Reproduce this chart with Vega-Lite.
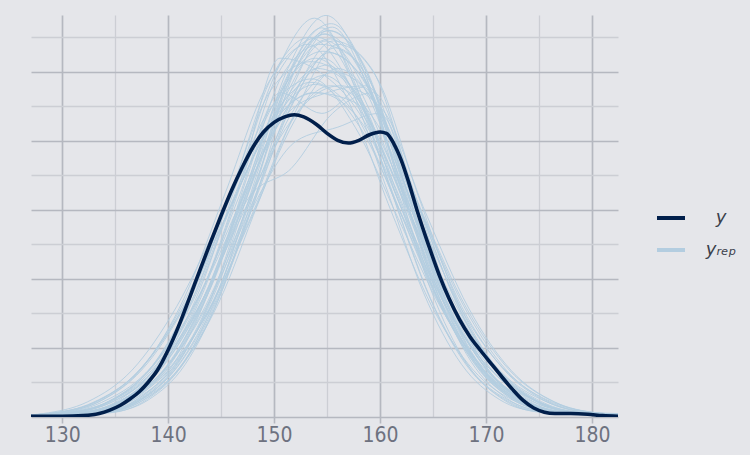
{
"$schema": "https://vega.github.io/schema/vega-lite/v6.json",
"width": 587, "height": 402,
"autosize": "none",
"padding": {"left": 31, "top": 15, "right": 132, "bottom": 38},
"background": "#e5e6ea",
"config": {"view": {"stroke": null}},
"datasets": {
"obs": [
{"x":127.06,"d":0.0001},{"x":130,"d":0.0001},{"x":132,"d":0.0002},{"x":133.5,"d":0.0005},{"x":134.5,"d":0.0010},{"x":135.5,"d":0.0017},{"x":136.4,"d":0.0026},{"x":137.3,"d":0.0037},{"x":138.1,"d":0.0050},{"x":139,"d":0.0068},{"x":140,"d":0.0097},{"x":141,"d":0.0132},{"x":142,"d":0.0172},{"x":143,"d":0.0213},{"x":144,"d":0.0253},{"x":145,"d":0.0292},{"x":146,"d":0.0329},{"x":147,"d":0.0362},{"x":148,"d":0.0391},{"x":149,"d":0.0413},{"x":150,"d":0.0427},{"x":151,"d":0.0435},{"x":151.9,"d":0.0438},{"x":152.8,"d":0.0435},{"x":154,"d":0.0424},{"x":155,"d":0.0411},{"x":156,"d":0.0401},{"x":157,"d":0.0397},{"x":158,"d":0.0401},{"x":159,"d":0.0409},{"x":160,"d":0.0413},{"x":160.6,"d":0.0411},{"x":161.3,"d":0.0396},{"x":162,"d":0.0372},{"x":162.7,"d":0.0340},{"x":163.5,"d":0.0299},{"x":164.6,"d":0.0248},{"x":165.6,"d":0.0205},{"x":166.5,"d":0.0172},{"x":167.5,"d":0.0141},{"x":168.5,"d":0.0116},{"x":169.5,"d":0.0096},{"x":170.5,"d":0.0077},{"x":171.5,"d":0.0058},{"x":172.5,"d":0.0040},{"x":173.5,"d":0.0024},{"x":174.5,"d":0.0013},{"x":175.5,"d":0.0007},{"x":176.5,"d":0.0005},{"x":178,"d":0.0005},{"x":179.6,"d":0.0004},{"x":181,"d":0.0002},{"x":182.45,"d":0.0001}
],
"rep": [
{"s":1,"x":127.06,"d":0.0001},{"s":1,"x":132.0,"d":0.0006},{"s":1,"x":135.75,"d":0.0024},{"s":1,"x":139.5,"d":0.0074},{"s":1,"x":143.25,"d":0.0170},{"s":1,"x":147.0,"d":0.0318},{"s":1,"x":150.75,"d":0.0478},{"s":1,"x":154.5,"d":0.0564},{"s":1,"x":158.25,"d":0.0455},{"s":1,"x":162.0,"d":0.0320},{"s":1,"x":165.75,"d":0.0176},{"s":1,"x":169.5,"d":0.0072},{"s":1,"x":173.25,"d":0.0024},{"s":1,"x":177.0,"d":0.0007},{"s":1,"x":182.45,"d":0.0004},
{"s":2,"x":127.06,"d":0.0002},{"s":2,"x":131.8,"d":0.0006},{"s":2,"x":135.7,"d":0.0023},{"s":2,"x":139.6,"d":0.0068},{"s":2,"x":143.5,"d":0.0160},{"s":2,"x":147.4,"d":0.0300},{"s":2,"x":151.3,"d":0.0440},{"s":2,"x":155.2,"d":0.0528},{"s":2,"x":159.1,"d":0.0470},{"s":2,"x":163.0,"d":0.0305},{"s":2,"x":166.9,"d":0.0162},{"s":2,"x":170.8,"d":0.0070},{"s":2,"x":174.7,"d":0.0023},{"s":2,"x":178.6,"d":0.0006},{"s":2,"x":182.45,"d":0.0004},
{"s":3,"x":127.06,"d":0.0001},{"s":3,"x":132.2,"d":0.0007},{"s":3,"x":135.8,"d":0.0026},{"s":3,"x":139.4,"d":0.0078},{"s":3,"x":143.0,"d":0.0185},{"s":3,"x":146.6,"d":0.0345},{"s":3,"x":150.2,"d":0.0500},{"s":3,"x":153.8,"d":0.0578},{"s":3,"x":157.4,"d":0.0492},{"s":3,"x":161.0,"d":0.0330},{"s":3,"x":164.6,"d":0.0176},{"s":3,"x":168.2,"d":0.0074},{"s":3,"x":171.8,"d":0.0025},{"s":3,"x":175.4,"d":0.0007},{"s":3,"x":182.45,"d":0.0003},
{"s":4,"x":127.06,"d":0.0002},{"s":4,"x":131.7,"d":0.0006},{"s":4,"x":135.75,"d":0.0022},{"s":4,"x":139.8,"d":0.0066},{"s":4,"x":143.85,"d":0.0155},{"s":4,"x":147.9,"d":0.0290},{"s":4,"x":151.95,"d":0.0430},{"s":4,"x":156.0,"d":0.0505},{"s":4,"x":160.05,"d":0.0440},{"s":4,"x":164.1,"d":0.0292},{"s":4,"x":168.15,"d":0.0158},{"s":4,"x":172.2,"d":0.0068},{"s":4,"x":176.25,"d":0.0023},{"s":4,"x":180.3,"d":0.0006},{"s":4,"x":182.45,"d":0.0004},
{"s":5,"x":127.06,"d":0.0003},{"s":5,"x":128.8,"d":0.0005},{"s":5,"x":133.0,"d":0.0021},{"s":5,"x":137.2,"d":0.0066},{"s":5,"x":141.4,"d":0.0158},{"s":5,"x":145.6,"d":0.0295},{"s":5,"x":149.8,"d":0.0425},{"s":5,"x":154.0,"d":0.0470},{"s":5,"x":158.2,"d":0.0428},{"s":5,"x":162.4,"d":0.0290},{"s":5,"x":166.6,"d":0.0150},{"s":5,"x":170.8,"d":0.0063},{"s":5,"x":175.0,"d":0.0021},{"s":5,"x":179.2,"d":0.0006},{"s":5,"x":182.45,"d":0.0004},
{"s":6,"x":127.06,"d":0.0001},{"s":6,"x":132.5,"d":0.0006},{"s":6,"x":136.25,"d":0.0024},{"s":6,"x":140.0,"d":0.0075},{"s":6,"x":143.75,"d":0.0185},{"s":6,"x":147.5,"d":0.0340},{"s":6,"x":151.25,"d":0.0440},{"s":6,"x":155.0,"d":0.0470},{"s":6,"x":158.75,"d":0.0480},{"s":6,"x":162.5,"d":0.0330},{"s":6,"x":166.25,"d":0.0170},{"s":6,"x":170.0,"d":0.0070},{"s":6,"x":173.75,"d":0.0023},{"s":6,"x":177.5,"d":0.0006},{"s":6,"x":182.45,"d":0.0003},
{"s":7,"x":127.06,"d":0.0003},{"s":7,"x":129.8,"d":0.0006},{"s":7,"x":133.7,"d":0.0024},{"s":7,"x":137.6,"d":0.0072},{"s":7,"x":141.5,"d":0.0172},{"s":7,"x":145.4,"d":0.0325},{"s":7,"x":149.3,"d":0.0480},{"s":7,"x":153.2,"d":0.0540},{"s":7,"x":157.1,"d":0.0455},{"s":7,"x":161.0,"d":0.0300},{"s":7,"x":164.9,"d":0.0160},{"s":7,"x":168.8,"d":0.0068},{"s":7,"x":172.7,"d":0.0023},{"s":7,"x":176.6,"d":0.0007},{"s":7,"x":182.45,"d":0.0003},
{"s":8,"x":127.06,"d":0.0001},{"s":8,"x":133.7,"d":0.0006},{"s":8,"x":137.3,"d":0.0024},{"s":8,"x":140.9,"d":0.0074},{"s":8,"x":144.5,"d":0.0175},{"s":8,"x":148.1,"d":0.0330},{"s":8,"x":151.7,"d":0.0495},{"s":8,"x":155.3,"d":0.0548},{"s":8,"x":158.9,"d":0.0480},{"s":8,"x":162.5,"d":0.0340},{"s":8,"x":166.1,"d":0.0182},{"s":8,"x":169.7,"d":0.0076},{"s":8,"x":173.3,"d":0.0025},{"s":8,"x":176.9,"d":0.0007},{"s":8,"x":182.45,"d":0.0004},
{"s":9,"x":127.06,"d":0.0001},{"s":9,"x":134.1,"d":0.0007},{"s":9,"x":137.55,"d":0.0026},{"s":9,"x":141.0,"d":0.0079},{"s":9,"x":144.45,"d":0.0186},{"s":9,"x":147.9,"d":0.0340},{"s":9,"x":151.35,"d":0.0495},{"s":9,"x":154.8,"d":0.0555},{"s":9,"x":158.25,"d":0.0500},{"s":9,"x":161.7,"d":0.0352},{"s":9,"x":165.15,"d":0.0190},{"s":9,"x":168.6,"d":0.0080},{"s":9,"x":172.05,"d":0.0026},{"s":9,"x":175.5,"d":0.0008},{"s":9,"x":182.45,"d":0.0003},
{"s":10,"x":127.06,"d":0.0003},{"s":10,"x":129.3,"d":0.0006},{"s":10,"x":133.35,"d":0.0023},{"s":10,"x":137.4,"d":0.0070},{"s":10,"x":141.45,"d":0.0165},{"s":10,"x":145.5,"d":0.0305},{"s":10,"x":149.55,"d":0.0445},{"s":10,"x":153.6,"d":0.0490},{"s":10,"x":157.65,"d":0.0420},{"s":10,"x":161.7,"d":0.0288},{"s":10,"x":165.75,"d":0.0158},{"s":10,"x":169.8,"d":0.0068},{"s":10,"x":173.85,"d":0.0022},{"s":10,"x":177.9,"d":0.0006},{"s":10,"x":182.45,"d":0.0003},
{"s":11,"x":127.06,"d":0.0001},{"s":11,"x":132.1,"d":0.0006},{"s":11,"x":136.0,"d":0.0024},{"s":11,"x":139.9,"d":0.0072},{"s":11,"x":143.8,"d":0.0180},{"s":11,"x":147.7,"d":0.0320},{"s":11,"x":151.6,"d":0.0360},{"s":11,"x":155.5,"d":0.0440},{"s":11,"x":159.4,"d":0.0470},{"s":11,"x":163.3,"d":0.0320},{"s":11,"x":167.2,"d":0.0165},{"s":11,"x":171.1,"d":0.0068},{"s":11,"x":175.0,"d":0.0022},{"s":11,"x":178.9,"d":0.0006},{"s":11,"x":182.45,"d":0.0004},
{"s":12,"x":127.06,"d":0.0002},{"s":12,"x":131.7,"d":0.0006},{"s":12,"x":135.45,"d":0.0023},{"s":12,"x":139.2,"d":0.0070},{"s":12,"x":142.95,"d":0.0168},{"s":12,"x":146.7,"d":0.0330},{"s":12,"x":150.45,"d":0.0500},{"s":12,"x":154.2,"d":0.0550},{"s":12,"x":157.95,"d":0.0470},{"s":12,"x":161.7,"d":0.0315},{"s":12,"x":165.45,"d":0.0170},{"s":12,"x":169.2,"d":0.0074},{"s":12,"x":172.95,"d":0.0025},{"s":12,"x":176.7,"d":0.0007},{"s":12,"x":182.45,"d":0.0003},
{"s":13,"x":127.06,"d":0.0001},{"s":13,"x":134.0,"d":0.0006},{"s":13,"x":137.6,"d":0.0024},{"s":13,"x":141.2,"d":0.0072},{"s":13,"x":144.8,"d":0.0172},{"s":13,"x":148.4,"d":0.0328},{"s":13,"x":152.0,"d":0.0470},{"s":13,"x":155.6,"d":0.0545},{"s":13,"x":159.2,"d":0.0505},{"s":13,"x":162.8,"d":0.0345},{"s":13,"x":166.4,"d":0.0180},{"s":13,"x":170.0,"d":0.0073},{"s":13,"x":173.6,"d":0.0024},{"s":13,"x":177.2,"d":0.0007},{"s":13,"x":182.45,"d":0.0004},
{"s":14,"x":127.06,"d":0.0003},{"s":14,"x":128.2,"d":0.0005},{"s":14,"x":132.4,"d":0.0022},{"s":14,"x":136.6,"d":0.0068},{"s":14,"x":140.8,"d":0.0160},{"s":14,"x":145.0,"d":0.0290},{"s":14,"x":149.2,"d":0.0420},{"s":14,"x":153.4,"d":0.0485},{"s":14,"x":157.6,"d":0.0440},{"s":14,"x":161.8,"d":0.0300},{"s":14,"x":166.0,"d":0.0155},{"s":14,"x":170.2,"d":0.0064},{"s":14,"x":174.4,"d":0.0022},{"s":14,"x":178.6,"d":0.0006},{"s":14,"x":182.45,"d":0.0004},
{"s":15,"x":127.06,"d":0.0001},{"s":15,"x":132.6,"d":0.0006},{"s":15,"x":136.5,"d":0.0023},{"s":15,"x":140.4,"d":0.0070},{"s":15,"x":144.3,"d":0.0170},{"s":15,"x":148.2,"d":0.0310},{"s":15,"x":152.1,"d":0.0400},{"s":15,"x":156.0,"d":0.0420},{"s":15,"x":159.9,"d":0.0440},{"s":15,"x":163.8,"d":0.0300},{"s":15,"x":167.7,"d":0.0160},{"s":15,"x":171.6,"d":0.0070},{"s":15,"x":175.5,"d":0.0024},{"s":15,"x":179.4,"d":0.0007},{"s":15,"x":182.45,"d":0.0005},
{"s":16,"x":127.06,"d":0.0001},{"s":16,"x":133.0,"d":0.0006},{"s":16,"x":136.6,"d":0.0024},{"s":16,"x":140.2,"d":0.0076},{"s":16,"x":143.8,"d":0.0180},{"s":16,"x":147.4,"d":0.0335},{"s":16,"x":151.0,"d":0.0480},{"s":16,"x":154.6,"d":0.0530},{"s":16,"x":158.2,"d":0.0495},{"s":16,"x":161.8,"d":0.0340},{"s":16,"x":165.4,"d":0.0178},{"s":16,"x":169.0,"d":0.0075},{"s":16,"x":172.6,"d":0.0025},{"s":16,"x":176.2,"d":0.0008},{"s":16,"x":182.45,"d":0.0003},
{"s":17,"x":127.06,"d":0.0002},{"s":17,"x":130.7,"d":0.0006},{"s":17,"x":134.75,"d":0.0022},{"s":17,"x":138.8,"d":0.0066},{"s":17,"x":142.85,"d":0.0158},{"s":17,"x":146.9,"d":0.0302},{"s":17,"x":150.95,"d":0.0450},{"s":17,"x":155.0,"d":0.0510},{"s":17,"x":159.05,"d":0.0430},{"s":17,"x":163.1,"d":0.0295},{"s":17,"x":167.15,"d":0.0162},{"s":17,"x":171.2,"d":0.0068},{"s":17,"x":175.25,"d":0.0022},{"s":17,"x":179.3,"d":0.0006},{"s":17,"x":182.45,"d":0.0004},
{"s":18,"x":127.06,"d":0.0002},{"s":18,"x":131.8,"d":0.0006},{"s":18,"x":135.55,"d":0.0024},{"s":18,"x":139.3,"d":0.0072},{"s":18,"x":143.05,"d":0.0176},{"s":18,"x":146.8,"d":0.0340},{"s":18,"x":150.55,"d":0.0520},{"s":18,"x":154.3,"d":0.0500},{"s":18,"x":158.05,"d":0.0440},{"s":18,"x":161.8,"d":0.0320},{"s":18,"x":165.55,"d":0.0168},{"s":18,"x":169.3,"d":0.0070},{"s":18,"x":173.05,"d":0.0023},{"s":18,"x":176.8,"d":0.0007},{"s":18,"x":182.45,"d":0.0003},
{"s":19,"x":127.06,"d":0.0001},{"s":19,"x":134.7,"d":0.0007},{"s":19,"x":138.15,"d":0.0025},{"s":19,"x":141.6,"d":0.0076},{"s":19,"x":145.05,"d":0.0182},{"s":19,"x":148.5,"d":0.0345},{"s":19,"x":151.95,"d":0.0515},{"s":19,"x":155.4,"d":0.0570},{"s":19,"x":158.85,"d":0.0495},{"s":19,"x":162.3,"d":0.0340},{"s":19,"x":165.75,"d":0.0185},{"s":19,"x":169.2,"d":0.0078},{"s":19,"x":172.65,"d":0.0026},{"s":19,"x":176.1,"d":0.0007},{"s":19,"x":182.45,"d":0.0003},
{"s":20,"x":127.06,"d":0.0002},{"s":20,"x":130.5,"d":0.0006},{"s":20,"x":134.4,"d":0.0023},{"s":20,"x":138.3,"d":0.0070},{"s":20,"x":142.2,"d":0.0168},{"s":20,"x":146.1,"d":0.0315},{"s":20,"x":150.0,"d":0.0455},{"s":20,"x":153.9,"d":0.0520},{"s":20,"x":157.8,"d":0.0458},{"s":20,"x":161.7,"d":0.0305},{"s":20,"x":165.6,"d":0.0164},{"s":20,"x":169.5,"d":0.0070},{"s":20,"x":173.4,"d":0.0023},{"s":20,"x":177.3,"d":0.0006},{"s":20,"x":182.45,"d":0.0003},
{"s":21,"x":127.06,"d":0.0003},{"s":21,"x":129.5,"d":0.0005},{"s":21,"x":133.7,"d":0.0021},{"s":21,"x":137.9,"d":0.0064},{"s":21,"x":142.1,"d":0.0152},{"s":21,"x":146.3,"d":0.0285},{"s":21,"x":150.5,"d":0.0430},{"s":21,"x":154.7,"d":0.0495},{"s":21,"x":158.9,"d":0.0425},{"s":21,"x":163.1,"d":0.0285},{"s":21,"x":167.3,"d":0.0152},{"s":21,"x":171.5,"d":0.0064},{"s":21,"x":175.7,"d":0.0022},{"s":21,"x":179.9,"d":0.0006},{"s":21,"x":182.45,"d":0.0004},
{"s":22,"x":127.06,"d":0.0001},{"s":22,"x":133.5,"d":0.0006},{"s":22,"x":137.1,"d":0.0024},{"s":22,"x":140.7,"d":0.0074},{"s":22,"x":144.3,"d":0.0176},{"s":22,"x":147.9,"d":0.0325},{"s":22,"x":151.5,"d":0.0470},{"s":22,"x":155.1,"d":0.0560},{"s":22,"x":158.7,"d":0.0500},{"s":22,"x":162.3,"d":0.0330},{"s":22,"x":165.9,"d":0.0178},{"s":22,"x":169.5,"d":0.0074},{"s":22,"x":173.1,"d":0.0024},{"s":22,"x":176.7,"d":0.0007},{"s":22,"x":182.45,"d":0.0003},
{"s":23,"x":127.06,"d":0.0002},{"s":23,"x":131.0,"d":0.0006},{"s":23,"x":134.75,"d":0.0024},{"s":23,"x":138.5,"d":0.0074},{"s":23,"x":142.25,"d":0.0176},{"s":23,"x":146.0,"d":0.0330},{"s":23,"x":149.75,"d":0.0475},{"s":23,"x":153.5,"d":0.0515},{"s":23,"x":157.25,"d":0.0480},{"s":23,"x":161.0,"d":0.0330},{"s":23,"x":164.75,"d":0.0172},{"s":23,"x":168.5,"d":0.0070},{"s":23,"x":172.25,"d":0.0023},{"s":23,"x":176.0,"d":0.0007},{"s":23,"x":182.45,"d":0.0003},
{"s":24,"x":127.06,"d":0.0002},{"s":24,"x":131.9,"d":0.0006},{"s":24,"x":135.95,"d":0.0022},{"s":24,"x":140.0,"d":0.0067},{"s":24,"x":144.05,"d":0.0160},{"s":24,"x":148.1,"d":0.0300},{"s":24,"x":152.15,"d":0.0440},{"s":24,"x":156.2,"d":0.0480},{"s":24,"x":160.25,"d":0.0445},{"s":24,"x":164.3,"d":0.0296},{"s":24,"x":168.35,"d":0.0158},{"s":24,"x":172.4,"d":0.0067},{"s":24,"x":176.45,"d":0.0022},{"s":24,"x":180.5,"d":0.0006},{"s":24,"x":182.45,"d":0.0004},
{"s":25,"x":127.06,"d":0.0002},{"s":25,"x":131.5,"d":0.0006},{"s":25,"x":135.4,"d":0.0023},{"s":25,"x":139.3,"d":0.0069},{"s":25,"x":143.2,"d":0.0166},{"s":25,"x":147.1,"d":0.0305},{"s":25,"x":151.0,"d":0.0462},{"s":25,"x":154.9,"d":0.0545},{"s":25,"x":158.8,"d":0.0468},{"s":25,"x":162.7,"d":0.0310},{"s":25,"x":166.6,"d":0.0166},{"s":25,"x":170.5,"d":0.0069},{"s":25,"x":174.4,"d":0.0023},{"s":25,"x":178.3,"d":0.0007},{"s":25,"x":182.45,"d":0.0004},
{"s":26,"x":127.06,"d":0.0001},{"s":26,"x":133.7,"d":0.0007},{"s":26,"x":137.15,"d":0.0026},{"s":26,"x":140.6,"d":0.0079},{"s":26,"x":144.05,"d":0.0190},{"s":26,"x":147.5,"d":0.0350},{"s":26,"x":150.95,"d":0.0500},{"s":26,"x":154.4,"d":0.0540},{"s":26,"x":157.85,"d":0.0515},{"s":26,"x":161.3,"d":0.0355},{"s":26,"x":164.75,"d":0.0186},{"s":26,"x":168.2,"d":0.0077},{"s":26,"x":171.65,"d":0.0025},{"s":26,"x":175.1,"d":0.0007},{"s":26,"x":182.45,"d":0.0003},
{"s":27,"x":127.06,"d":0.0001},{"s":27,"x":133.3,"d":0.0006},{"s":27,"x":137.05,"d":0.0023},{"s":27,"x":140.8,"d":0.0071},{"s":27,"x":144.55,"d":0.0170},{"s":27,"x":148.3,"d":0.0318},{"s":27,"x":152.05,"d":0.0465},{"s":27,"x":155.8,"d":0.0535},{"s":27,"x":159.55,"d":0.0472},{"s":27,"x":163.3,"d":0.0320},{"s":27,"x":167.05,"d":0.0172},{"s":27,"x":170.8,"d":0.0072},{"s":27,"x":174.55,"d":0.0024},{"s":27,"x":178.3,"d":0.0007},{"s":27,"x":182.45,"d":0.0004},
{"s":28,"x":127.06,"d":0.0003},{"s":28,"x":129.4,"d":0.0006},{"s":28,"x":133.45,"d":0.0022},{"s":28,"x":137.5,"d":0.0068},{"s":28,"x":141.55,"d":0.0160},{"s":28,"x":145.6,"d":0.0295},{"s":28,"x":149.65,"d":0.0420},{"s":28,"x":153.7,"d":0.0470},{"s":28,"x":157.75,"d":0.0455},{"s":28,"x":161.8,"d":0.0310},{"s":28,"x":165.85,"d":0.0160},{"s":28,"x":169.9,"d":0.0066},{"s":28,"x":173.95,"d":0.0022},{"s":28,"x":178.0,"d":0.0006},{"s":28,"x":182.45,"d":0.0003},
{"s":29,"x":127.06,"d":0.0001},{"s":29,"x":133.3,"d":0.0006},{"s":29,"x":136.9,"d":0.0024},{"s":29,"x":140.5,"d":0.0073},{"s":29,"x":144.1,"d":0.0175},{"s":29,"x":147.7,"d":0.0340},{"s":29,"x":151.3,"d":0.0505},{"s":29,"x":154.9,"d":0.0582},{"s":29,"x":158.5,"d":0.0500},{"s":29,"x":162.1,"d":0.0330},{"s":29,"x":165.7,"d":0.0175},{"s":29,"x":169.3,"d":0.0073},{"s":29,"x":172.9,"d":0.0024},{"s":29,"x":176.5,"d":0.0007},{"s":29,"x":182.45,"d":0.0003},
{"s":30,"x":127.06,"d":0.0003},{"s":30,"x":130.1,"d":0.0005},{"s":30,"x":134.3,"d":0.0021},{"s":30,"x":138.5,"d":0.0065},{"s":30,"x":142.7,"d":0.0155},{"s":30,"x":146.9,"d":0.0290},{"s":30,"x":151.1,"d":0.0418},{"s":30,"x":155.3,"d":0.0480},{"s":30,"x":159.5,"d":0.0430},{"s":30,"x":163.7,"d":0.0288},{"s":30,"x":167.9,"d":0.0150},{"s":30,"x":172.1,"d":0.0063},{"s":30,"x":176.3,"d":0.0021},{"s":30,"x":180.5,"d":0.0006},{"s":30,"x":182.45,"d":0.0004},
{"s":31,"x":127.06,"d":0.0002},{"s":31,"x":130.7,"d":0.0006},{"s":31,"x":134.6,"d":0.0024},{"s":31,"x":138.5,"d":0.0072},{"s":31,"x":142.4,"d":0.0170},{"s":31,"x":146.3,"d":0.0318},{"s":31,"x":150.2,"d":0.0440},{"s":31,"x":154.1,"d":0.0505},{"s":31,"x":158.0,"d":0.0465},{"s":31,"x":161.9,"d":0.0312},{"s":31,"x":165.8,"d":0.0166},{"s":31,"x":169.7,"d":0.0069},{"s":31,"x":173.6,"d":0.0023},{"s":31,"x":177.5,"d":0.0006},{"s":31,"x":182.45,"d":0.0003},
{"s":32,"x":127.06,"d":0.0001},{"s":32,"x":133.9,"d":0.0006},{"s":32,"x":137.5,"d":0.0023},{"s":32,"x":141.1,"d":0.0072},{"s":32,"x":144.7,"d":0.0172},{"s":32,"x":148.3,"d":0.0320},{"s":32,"x":151.9,"d":0.0500},{"s":32,"x":155.5,"d":0.0565},{"s":32,"x":159.1,"d":0.0470},{"s":32,"x":162.7,"d":0.0330},{"s":32,"x":166.3,"d":0.0180},{"s":32,"x":169.9,"d":0.0075},{"s":32,"x":173.5,"d":0.0025},{"s":32,"x":177.1,"d":0.0007},{"s":32,"x":182.45,"d":0.0003},
{"s":33,"x":127.06,"d":0.0002},{"s":33,"x":130.3,"d":0.0006},{"s":33,"x":134.35,"d":0.0022},{"s":33,"x":138.4,"d":0.0067},{"s":33,"x":142.45,"d":0.0162},{"s":33,"x":146.5,"d":0.0300},{"s":33,"x":150.55,"d":0.0428},{"s":33,"x":154.6,"d":0.0520},{"s":33,"x":158.65,"d":0.0440},{"s":33,"x":162.7,"d":0.0298},{"s":33,"x":166.75,"d":0.0160},{"s":33,"x":170.8,"d":0.0068},{"s":33,"x":174.85,"d":0.0023},{"s":33,"x":178.9,"d":0.0006},{"s":33,"x":182.45,"d":0.0004},
{"s":34,"x":127.06,"d":0.0002},{"s":34,"x":131.7,"d":0.0006},{"s":34,"x":135.3,"d":0.0024},{"s":34,"x":138.9,"d":0.0074},{"s":34,"x":142.5,"d":0.0178},{"s":34,"x":146.1,"d":0.0332},{"s":34,"x":149.7,"d":0.0490},{"s":34,"x":153.3,"d":0.0550},{"s":34,"x":156.9,"d":0.0488},{"s":34,"x":160.5,"d":0.0336},{"s":34,"x":164.1,"d":0.0180},{"s":34,"x":167.7,"d":0.0076},{"s":34,"x":171.3,"d":0.0025},{"s":34,"x":174.9,"d":0.0008},{"s":34,"x":182.45,"d":0.0003},
{"s":35,"x":127.06,"d":0.0001},{"s":35,"x":133.5,"d":0.0006},{"s":35,"x":137.25,"d":0.0023},{"s":35,"x":141.0,"d":0.0070},{"s":35,"x":144.75,"d":0.0165},{"s":35,"x":148.5,"d":0.0310},{"s":35,"x":152.25,"d":0.0450},{"s":35,"x":156.0,"d":0.0540},{"s":35,"x":159.75,"d":0.0490},{"s":35,"x":163.5,"d":0.0325},{"s":35,"x":167.25,"d":0.0170},{"s":35,"x":171.0,"d":0.0071},{"s":35,"x":174.75,"d":0.0024},{"s":35,"x":178.5,"d":0.0007},{"s":35,"x":182.45,"d":0.0004},
{"s":36,"x":127.06,"d":0.0002},{"s":36,"x":131.1,"d":0.0006},{"s":36,"x":135.0,"d":0.0024},{"s":36,"x":138.9,"d":0.0071},{"s":36,"x":142.8,"d":0.0170},{"s":36,"x":146.7,"d":0.0320},{"s":36,"x":150.6,"d":0.0470},{"s":36,"x":154.5,"d":0.0440},{"s":36,"x":158.4,"d":0.0478},{"s":36,"x":162.3,"d":0.0315},{"s":36,"x":166.2,"d":0.0165},{"s":36,"x":170.1,"d":0.0069},{"s":36,"x":174.0,"d":0.0023},{"s":36,"x":177.9,"d":0.0006},{"s":36,"x":182.45,"d":0.0003},
{"s":37,"x":127.06,"d":0.0001},{"s":37,"x":134.5,"d":0.0006},{"s":37,"x":137.95,"d":0.0025},{"s":37,"x":141.4,"d":0.0077},{"s":37,"x":144.85,"d":0.0186},{"s":37,"x":148.3,"d":0.0348},{"s":37,"x":151.75,"d":0.0505},{"s":37,"x":155.2,"d":0.0560},{"s":37,"x":158.65,"d":0.0505},{"s":37,"x":162.1,"d":0.0348},{"s":37,"x":165.55,"d":0.0185},{"s":37,"x":169.0,"d":0.0078},{"s":37,"x":172.45,"d":0.0026},{"s":37,"x":175.9,"d":0.0008},{"s":37,"x":182.45,"d":0.0003},
{"s":38,"x":127.06,"d":0.0003},{"s":38,"x":128.7,"d":0.0005},{"s":38,"x":132.9,"d":0.0021},{"s":38,"x":137.1,"d":0.0065},{"s":38,"x":141.3,"d":0.0156},{"s":38,"x":145.5,"d":0.0292},{"s":38,"x":149.7,"d":0.0425},{"s":38,"x":153.9,"d":0.0482},{"s":38,"x":158.1,"d":0.0420},{"s":38,"x":162.3,"d":0.0285},{"s":38,"x":166.5,"d":0.0152},{"s":38,"x":170.7,"d":0.0064},{"s":38,"x":174.9,"d":0.0022},{"s":38,"x":179.1,"d":0.0006},{"s":38,"x":182.45,"d":0.0004},
{"s":39,"x":127.06,"d":0.0001},{"s":39,"x":132.3,"d":0.0006},{"s":39,"x":136.05,"d":0.0024},{"s":39,"x":139.8,"d":0.0073},{"s":39,"x":143.55,"d":0.0174},{"s":39,"x":147.3,"d":0.0326},{"s":39,"x":151.05,"d":0.0475},{"s":39,"x":154.8,"d":0.0555},{"s":39,"x":158.55,"d":0.0460},{"s":39,"x":162.3,"d":0.0318},{"s":39,"x":166.05,"d":0.0174},{"s":39,"x":169.8,"d":0.0073},{"s":39,"x":173.55,"d":0.0024},{"s":39,"x":177.3,"d":0.0007},{"s":39,"x":182.45,"d":0.0004},
{"s":40,"x":127.06,"d":0.0002},{"s":40,"x":131.4,"d":0.0006},{"s":40,"x":135.45,"d":0.0022},{"s":40,"x":139.5,"d":0.0066},{"s":40,"x":143.55,"d":0.0158},{"s":40,"x":147.6,"d":0.0298},{"s":40,"x":151.65,"d":0.0440},{"s":40,"x":155.7,"d":0.0500},{"s":40,"x":159.75,"d":0.0450},{"s":40,"x":163.8,"d":0.0300},{"s":40,"x":167.85,"d":0.0162},{"s":40,"x":171.9,"d":0.0068},{"s":40,"x":175.95,"d":0.0022},{"s":40,"x":180.0,"d":0.0006},{"s":40,"x":182.45,"d":0.0004}
]
},
"encoding": {
  "x": {"field": "x", "type": "quantitative",
    "scale": {"domain": [127.06, 182.45], "nice": false, "zero": false},
    "axis": {"title": null, "domain": false,
      "values": [130,135,140,145,150,155,160,165,170,175,180],
      "labelExpr": "datum.value % 10 === 0 ? datum.label : ''",
      "labelFont": "Liberation Sans Narrow, DejaVu Sans Condensed, Open Sans, sans-serif",
      "labelFontSize": 21, "labelColor": "#6e7280", "labelPadding": 1, "labelFlush": false,
      "tickSize": 6, "tickWidth": 1.6,
      "tickColor": {"condition": {"test": "datum.value % 10 === 0", "value": "#b5b8c0"}, "value": "transparent"},
      "gridColor": {"condition": {"test": "datum.value % 10 === 0", "value": "#b5b8c0"}, "value": "#ccced4"},
      "gridWidth": {"condition": {"test": "datum.value % 10 === 0", "value": 1.7}, "value": 1.3}
    }},
  "y": {"field": "d", "type": "quantitative",
    "scale": {"domain": [0, 0.05826], "nice": false},
    "axis": {"title": null, "domain": false, "labels": false, "ticks": false,
      "values": [0,0.005,0.01,0.015,0.02,0.025,0.03,0.035,0.04,0.045,0.05,0.055],
      "gridColor": {"condition": {"test": "round(datum.value*1000) % 10 === 0", "value": "#b5b8c0"}, "value": "#ccced4"},
      "gridWidth": {"condition": {"test": "round(datum.value*1000) % 10 === 0", "value": 1.7}, "value": 1.3}
    }}
},
"layer": [
  {"data": {"name": "rep"},
   "mark": {"type": "line", "interpolate": "monotone", "strokeWidth": 1, "opacity": 0.9, "clip": true},
   "encoding": {
     "detail": {"field": "s", "type": "nominal"},
     "color": {"datum": "yrep", "type": "nominal",
       "scale": {"domain": ["y", "yrep"], "range": ["#011f4b", "#b3cde0"]},
       "legend": {"title": null, "orient": "none", "legendX": 624, "legendY": 187, "padding": 0,
         "symbolType": "stroke", "symbolSize": 784, "symbolStrokeWidth": 4, "symbolOpacity": 1,
         "labelFontSize": 18, "labelFontStyle": "italic", "labelColor": "#3b3f4c",
         "labelFont": "DejaVu Sans, sans-serif",
         "labelAlign": "center", "labelOffset": 34, "rowPadding": 7,
         "labelExpr": "datum.label === 'y' ? 'y' : 'yᵣₑₚ'"}}
   }},
  {"data": {"name": "obs"},
   "mark": {"type": "line", "interpolate": "monotone", "strokeWidth": 3.6, "clip": true},
   "encoding": {
     "color": {"datum": "y", "type": "nominal"}
   }}
]
}
